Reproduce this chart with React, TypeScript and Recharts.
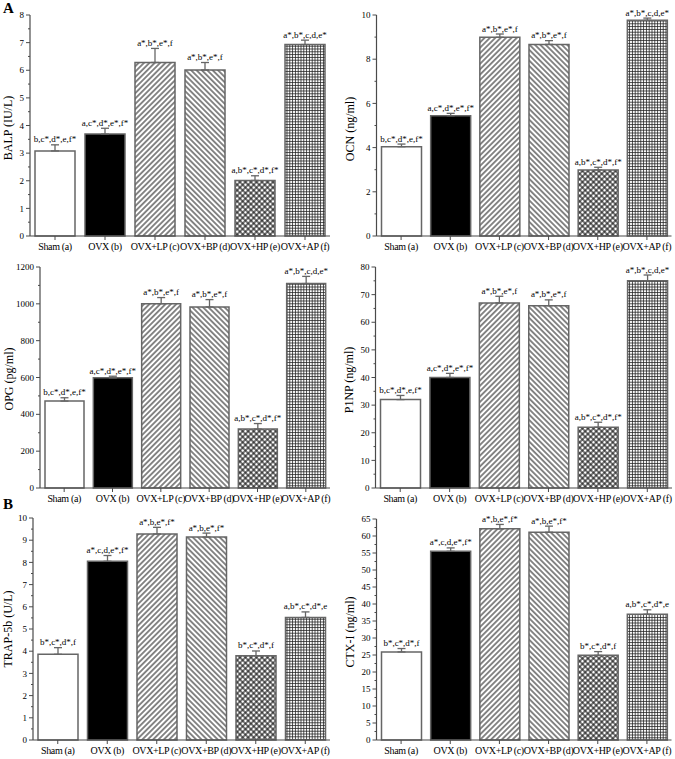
import React from "react";
import { BarChart, Bar, Cell, XAxis, YAxis, ErrorBar, LabelList } from "recharts";

const SERIF = "'Liberation Serif', 'Times New Roman', serif";

const groups = ["Sham (a)", "OVX (b)", "OVX+LP (c)", "OVX+BP (d)", "OVX+HP (e)", "OVX+AP (f)"];
const groupFills = ["#ffffff", "#000000", "url(#pLP)", "url(#pBP)", "url(#pHP)", "url(#pAP)"];

// significance letters printed above the bars
const formationMarks = ["b,c*,d*,e,f*", "a,c*,d*,e*,f*", "a*,b*,e*,f", "a*,b*,e*,f", "a,b*,c*,d*,f*", "a*,b*,c,d,e*"];
const resorptionMarks = ["b*,c*,d*,f", "a*,c,d,e*,f*", "a*,b,e*,f*", "a*,b,e*,f*", "b*,c*,d*,f", "a,b*,c*,d*,e"];

const balpMean = [3.08, 3.69, 6.28, 6.01, 2.01, 6.93];
const balpErr = [0.22, 0.21, 0.51, 0.27, 0.17, 0.16];
const balpTicks = [0, 1, 2, 3, 4, 5, 6, 7, 8];

const ocnMean = [4.04, 5.44, 8.99, 8.67, 2.99, 9.76];
const ocnErr = [0.12, 0.11, 0.15, 0.17, 0.12, 0.1];
const ocnTicks = [0, 2, 4, 6, 8, 10];

const opgMean = [472, 598, 1001, 983, 320, 1110];
const opgErr = [18, 9, 33, 40, 30, 39];
const opgTicks = [0, 200, 400, 600, 800, 1000, 1200];

const p1npMean = [32, 40, 67, 66, 22, 75];
const p1npErr = [1.5, 1.5, 2.4, 2.1, 1.8, 2.1];
const p1npTicks = [0, 10, 20, 30, 40, 50, 60, 70, 80];

const trapMean = [3.86, 8.05, 9.28, 9.14, 3.8, 5.52];
const trapErr = [0.3, 0.26, 0.3, 0.18, 0.21, 0.25];
const trapTicks = [0, 1, 2, 3, 4, 5, 6, 7, 8, 9, 10];

const ctxMean = [25.9, 55.5, 62.1, 61.1, 24.9, 37.0];
const ctxErr = [1.0, 1.0, 1.3, 1.8, 1.1, 1.3];
const ctxTicks = [0, 5, 10, 15, 20, 25, 30, 35, 40, 45, 50, 55, 60, 65];

const AXIS = "#4a4a4a";
const EDGE = "#666666";

type PanelProps = {
  title: string;
  mean: number[];
  err: number[];
  marks: string[];
  ticks: number[];
  colLeft: number;
  x0: number;
  x1: number;
  y0: number;
  y1: number;
  barSize: number;
  labelX: number;
  labelY: number;
};

function Panel({ mean, err, marks, ticks, colLeft, x0, x1, y0, y1, barSize }: PanelProps) {
  const boxTop = y0 - 15;
  const yAxisWidth = x0 - colLeft;
  const width = x1 - colLeft + 4;
  const xAxisHeight = 22;
  const height = y1 - boxTop + xAxisHeight;
  const data = groups.map((name, i) => ({
    name,
    value: mean[i],
    err: err[i],
    range: [0, err[i]],
    mark: marks[i]
  }));
  const step = ticks[1] - ticks[0];
  const allTicks = ticks.flatMap((t, i) => (i < ticks.length - 1 ? [t, t + step / 2] : [t]));
  const max = ticks[ticks.length - 1];

  const renderTick = (p: any) => {
    const v = p.payload.value;
    const major = ticks.includes(v);
    const ax = yAxisWidth;
    return (
      <g>
        <line x1={ax - (major ? 4 : 2)} x2={ax} y1={p.y} y2={p.y} stroke={AXIS} strokeWidth={1} />
        {major && (
          <text x={ax - 6} y={p.y} dy="0.35em" textAnchor="end" fontSize={9} fontFamily={SERIF} fill="#000">
            {v}
          </text>
        )}
      </g>
    );
  };

  const renderMark = (p: any) => {
    const d = data[p.index];
    if (!d) return null;
    const pxPerUnit = p.height / d.value;
    const top = p.y - d.err * pxPerUnit;
    return (
      <text x={p.x + p.width / 2} y={top - 2.5} textAnchor="middle" fontSize={9} fontFamily={SERIF} fill="#000">
        {d.mark}
      </text>
    );
  };

  return (
    <div style={{ position: "absolute", left: colLeft, top: boxTop }}>
      <BarChart
        width={width}
        height={height}
        data={data}
        margin={{ top: 15, right: 4, bottom: 0, left: 0 }}
        barSize={barSize}
      >
        <XAxis
          dataKey="name"
          height={xAxisHeight}
          interval={0}
          tickSize={4}
          tickMargin={3}
          axisLine={{ stroke: AXIS, strokeWidth: 1.2 }}
          tickLine={{ stroke: AXIS }}
          tick={{ fontSize: 10, fontFamily: SERIF, fill: "#000", letterSpacing: -0.35 }}
        />
        <YAxis
          width={yAxisWidth}
          domain={[0, max]}
          ticks={allTicks}
          interval={0}
          tickLine={false}
          axisLine={{ stroke: AXIS, strokeWidth: 1.2 }}
          tick={renderTick}
        />
        <Bar dataKey="value" stroke={EDGE} strokeWidth={1.5} isAnimationActive={false}>
          {data.map((d, i) => (
            <Cell key={d.name} fill={groupFills[i]} />
          ))}
          <ErrorBar dataKey="range" width={4} stroke={EDGE} strokeWidth={1.3} isAnimationActive={false} />
          <LabelList dataKey="mark" content={renderMark} />
        </Bar>
      </BarChart>
    </div>
  );
}

const panels: PanelProps[] = [
  { title: "BALP (IU/L)", mean: balpMean, err: balpErr, marks: formationMarks, ticks: balpTicks, colLeft: 0, x0: 30, x1: 330, y0: 15, y1: 236, barSize: 40, labelX: 8, labelY: 128 },
  { title: "OCN (ng/ml)", mean: ocnMean, err: ocnErr, marks: formationMarks, ticks: ocnTicks, colLeft: 337, x0: 376.5, x1: 671.5, y0: 15, y1: 236, barSize: 40, labelX: 350, labelY: 129 },
  { title: "OPG (pg/ml)", mean: opgMean, err: opgErr, marks: formationMarks, ticks: opgTicks, colLeft: 0, x0: 40, x1: 330, y0: 267, y1: 488, barSize: 39, labelX: 9, labelY: 379 },
  { title: "P1NP (ng/ml)", mean: p1npMean, err: p1npErr, marks: formationMarks, ticks: p1npTicks, colLeft: 337, x0: 375.5, x1: 672, y0: 267, y1: 488, barSize: 40, labelX: 349, labelY: 380 },
  { title: "TRAP-5b (U/L)", mean: trapMean, err: trapErr, marks: resorptionMarks, ticks: trapTicks, colLeft: 0, x0: 33, x1: 330, y0: 518, y1: 740, barSize: 40, labelX: 8, labelY: 629 },
  { title: "CTX-I (ng/ml)", mean: ctxMean, err: ctxErr, marks: resorptionMarks, ticks: ctxTicks, colLeft: 337, x0: 376.5, x1: 671.5, y0: 519, y1: 740, barSize: 40, labelX: 350, labelY: 632 }
];

export default function App() {
  return (
    <div style={{ position: "absolute", left: 0, top: 0, width: 675, height: 759, background: "#fff", overflow: "hidden" }}>
      <svg width={0} height={0} style={{ position: "absolute" }}>
        <defs>
          <pattern id="pLP" width={3.8} height={3.8} patternUnits="userSpaceOnUse" patternTransform="rotate(45)">
            <rect width={3.8} height={3.8} fill="#fff" />
            <line x1={1.9} y1={0} x2={1.9} y2={3.8} stroke="#111" strokeWidth={1} />
          </pattern>
          <pattern id="pBP" width={3.8} height={3.8} patternUnits="userSpaceOnUse" patternTransform="rotate(-45)">
            <rect width={3.8} height={3.8} fill="#fff" />
            <line x1={1.9} y1={0} x2={1.9} y2={3.8} stroke="#111" strokeWidth={1} />
          </pattern>
          <pattern id="pHP" width={3.9} height={3.9} patternUnits="userSpaceOnUse" patternTransform="rotate(45)">
            <rect width={3.9} height={3.9} fill="#fff" />
            <line x1={1.95} y1={0} x2={1.95} y2={3.9} stroke="#111" strokeWidth={1.1} />
            <line x1={0} y1={1.95} x2={3.9} y2={1.95} stroke="#111" strokeWidth={1.1} />
          </pattern>
          <pattern id="pAP" width={2.8} height={2.8} patternUnits="userSpaceOnUse">
            <rect width={2.8} height={2.8} fill="#fff" />
            <line x1={1.4} y1={0} x2={1.4} y2={2.8} stroke="#222" strokeWidth={0.8} />
            <line x1={0} y1={1.4} x2={2.8} y2={1.4} stroke="#222" strokeWidth={0.8} />
          </pattern>
        </defs>
      </svg>
      {panels.map((p) => (
        <Panel key={p.title} {...p} />
      ))}
      <svg width={675} height={759} style={{ position: "absolute", left: 0, top: 0, pointerEvents: "none" }}>
        <text x={3} y={13} fontSize={15} fontWeight="bold" fontFamily={SERIF}>A</text>
        <text x={3} y={509} fontSize={15} fontWeight="bold" fontFamily={SERIF}>B</text>
        {panels.map((p) => (
          <text
            key={p.title}
            transform={`translate(${p.labelX},${p.labelY}) rotate(-90)`}
            textAnchor="middle"
            dominantBaseline="central"
            fontSize={12}
            fontFamily={SERIF}
            fill="#000"
          >
            {p.title}
          </text>
        ))}
      </svg>
    </div>
  );
}
